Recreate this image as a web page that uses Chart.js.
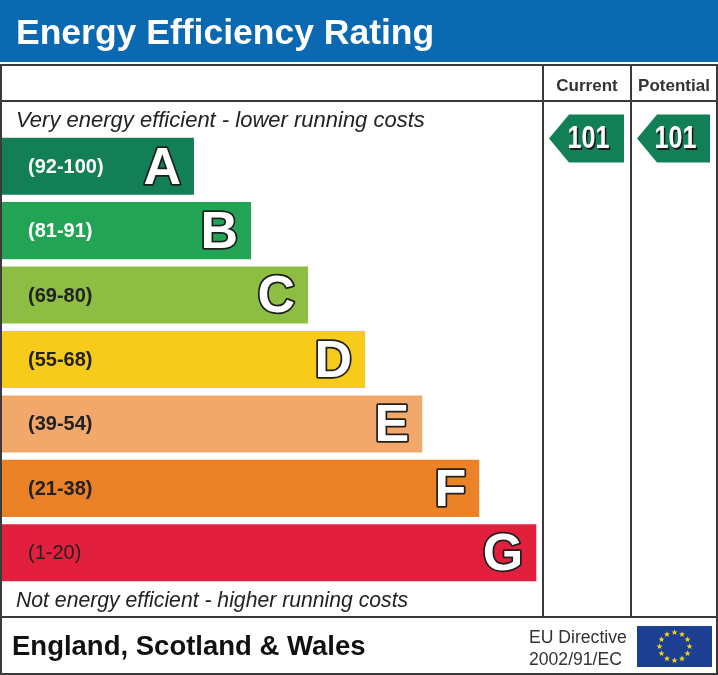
<!DOCTYPE html>
<html lang="en">
<head>
    <meta charset="UTF-8">
    <title>Energy Efficiency Rating</title>
    <script src="https://cdn.jsdelivr.net/npm/chart.js"></script>
    <style>
        html, body { margin: 0; padding: 0; background: #fff; overflow: hidden; }
        canvas { display: block; }
    </style>
</head>
<body>
    <canvas id="epcChart" width="718" height="675"></canvas>
    <script>
        // Bands of the rating scale, best first
        const bandLetters = ['A', 'B', 'C', 'D', 'E', 'F', 'G'];
        const bandRanges = ['(92-100)', '(81-91)', '(69-80)', '(55-68)', '(39-54)', '(21-38)', '(1-20)'];
        const bandLow = [92, 81, 69, 55, 39, 21, 1];
        const bandHigh = [100, 91, 80, 68, 54, 38, 20];
        // relative bar lengths (steps of the ladder)
        const bandLength = [3.4, 4.4, 5.4, 6.4, 7.4, 8.4, 9.4];
        const bandColors = ['#127f56', '#22a454', '#8dbd43', '#f6cb1a', '#f2a76b', '#ec8227', '#e21f3c'];
        const labelColors = ['#ffffff', '#ffffff', '#222222', '#222222', '#222222', '#222222', '#222222'];

        const currentRating = 101;
        const potentialRating = 101;

        const W = 718, H = 675;
        const colCurrent = [543, 631];
        const colPotential = [631, 717];
        const FONT = '"Liberation Sans", Arial, sans-serif';

        // which row of the category axis a rating sits on (fractional above A)
        function ratingRow(r) {
            if (r > bandHigh[0]) return -0.43;
            for (let i = 0; i < bandLow.length; i++) {
                if (r >= bandLow[i]) return i;
            }
            return bandLow.length - 1;
        }

        function ratingColor(r) {
            const row = Math.max(0, Math.round(ratingRow(r)));
            return bandColors[row];
        }

        // text squeezed horizontally (the original uses a narrow face)
        function narrowText(ctx, txt, x, y, sx) {
            ctx.save();
            ctx.translate(x, y);
            ctx.scale(sx, 1);
            ctx.fillText(txt, 0, 0);
            ctx.restore();
        }

        function drawStar(ctx, cx, cy, r) {
            ctx.beginPath();
            for (let k = 0; k < 10; k++) {
                const a = -Math.PI / 2 + k * Math.PI / 5;
                const rr = k % 2 === 0 ? r : r * 0.42;
                ctx.lineTo(cx + rr * Math.cos(a), cy + rr * Math.sin(a));
            }
            ctx.closePath();
            ctx.fill();
        }

        function drawArrow(ctx, col, y, rating) {
            const left = col[0] + 6, tip = 20, right = col[1] - 7;
            const h = 48;
            ctx.fillStyle = ratingColor(rating);
            ctx.beginPath();
            ctx.moveTo(left, y);
            ctx.lineTo(left + tip, y - h / 2);
            ctx.lineTo(right, y - h / 2);
            ctx.lineTo(right, y + h / 2);
            ctx.lineTo(left + tip, y + h / 2);
            ctx.closePath();
            ctx.fill();
            ctx.font = 'bold 31px ' + FONT;
            ctx.textAlign = 'center';
            ctx.textBaseline = 'middle';
            const tx = (left + right) / 2 + 2;
            ctx.fillStyle = '#1a1a1a';
            narrowText(ctx, String(rating), tx + 1.5, y + 2.5, 0.81);
            ctx.fillStyle = '#ffffff';
            narrowText(ctx, String(rating), tx, y + 1, 0.81);
        }

        const frame = {
            id: 'frame',
            beforeDraw(chart) {
                const ctx = chart.ctx;
                ctx.save();
                ctx.fillStyle = '#ffffff';
                ctx.fillRect(0, 0, W, H);
                // header band
                ctx.fillStyle = '#0b69b2';
                ctx.fillRect(0, 0, W, 62);
                ctx.fillStyle = '#ffffff';
                ctx.font = 'bold 35.5px ' + FONT;
                ctx.textAlign = 'left';
                ctx.textBaseline = 'alphabetic';
                ctx.fillText('Energy Efficiency Rating', 16, 44);
                ctx.restore();
            },
            afterDraw(chart) {
                const ctx = chart.ctx;
                const y = chart.scales.y;
                const meta = chart.getDatasetMeta(0);
                ctx.save();

                // grid lines of the table
                ctx.strokeStyle = '#3a3a3a';
                ctx.lineWidth = 2;
                ctx.strokeRect(1, 65, W - 2, H - 66);
                ctx.beginPath();
                ctx.moveTo(0, 101); ctx.lineTo(W, 101);
                ctx.moveTo(0, 617); ctx.lineTo(W, 617);
                ctx.moveTo(colCurrent[0], 65); ctx.lineTo(colCurrent[0], 617);
                ctx.moveTo(colPotential[0], 65); ctx.lineTo(colPotential[0], 617);
                ctx.stroke();

                // column heads
                ctx.fillStyle = '#333333';
                ctx.font = 'bold 17px ' + FONT;
                ctx.textAlign = 'center';
                ctx.textBaseline = 'alphabetic';
                ctx.fillText('Current', (colCurrent[0] + colCurrent[1]) / 2, 91);
                ctx.fillText('Potential', (colPotential[0] + colPotential[1]) / 2, 91);

                // top / bottom captions
                ctx.textAlign = 'left';
                ctx.fillStyle = '#222222';
                ctx.font = 'italic 22px ' + FONT;
                ctx.fillText('Very energy efficient - lower running costs', 16, 127);
                ctx.font = 'italic 21.2px ' + FONT;
                ctx.fillText('Not energy efficient - higher running costs', 16, 607);

                // band texts
                meta.data.forEach((bar, i) => {
                    const cy = bar.y;
                    ctx.textBaseline = 'middle';
                    ctx.textAlign = 'left';
                    ctx.fillStyle = labelColors[i];
                    ctx.font = (i === 6 ? '' : 'bold ') + '20px ' + FONT;
                    ctx.fillText(bandRanges[i], 28, cy + 1);
                    ctx.textAlign = 'right';
                    ctx.font = 'bold 52px ' + FONT;
                    ctx.lineJoin = 'round';
                    ctx.lineWidth = 3.5;
                    ctx.strokeStyle = '#1e1e1e';
                    ctx.strokeText(bandLetters[i], bar.x - 13, cy + 3);
                    ctx.fillStyle = '#ffffff';
                    ctx.fillText(bandLetters[i], bar.x - 13, cy + 3);
                });

                // rating arrows
                drawArrow(ctx, colCurrent, y.getPixelForValue(ratingRow(currentRating)), currentRating);
                drawArrow(ctx, colPotential, y.getPixelForValue(ratingRow(potentialRating)), potentialRating);

                // footer
                ctx.textBaseline = 'alphabetic';
                ctx.textAlign = 'left';
                ctx.fillStyle = '#111111';
                ctx.font = 'bold 27.5px ' + FONT;
                ctx.fillText('England, Scotland & Wales', 12, 655);
                ctx.fillStyle = '#333333';
                ctx.font = '17.6px ' + FONT;
                ctx.fillText('EU Directive', 529, 643);
                ctx.fillText('2002/91/EC', 529, 665);

                // EU flag
                ctx.fillStyle = '#1d3f91';
                ctx.fillRect(637, 626, 75, 41);
                ctx.fillStyle = '#f5d416';
                for (let k = 0; k < 12; k++) {
                    const a = k * Math.PI / 6;
                    drawStar(ctx, 674.5 + 15 * Math.cos(a), 646.5 + 14 * Math.sin(a), 3.2);
                }
                ctx.restore();
            }
        };

        const ctx = document.getElementById('epcChart').getContext('2d');
        const epcChart = new Chart(ctx, {
            type: 'bar',
            data: {
                labels: bandLetters,
                datasets: [{
                    data: bandLength,
                    backgroundColor: bandColors,
                    borderWidth: 0,
                    barPercentage: 0.886,
                    categoryPercentage: 1.0
                }]
            },
            options: {
                indexAxis: 'y',
                responsive: false,
                animation: false,
                devicePixelRatio: 1,
                layout: { padding: { left: 0, right: W - colCurrent[0] + 1, top: 134, bottom: 90 } },
                scales: {
                    x: { display: false, min: 0, max: 9.5 },
                    y: { display: false }
                },
                plugins: {
                    legend: { display: false },
                    tooltip: { enabled: false }
                }
            },
            plugins: [frame]
        });
    </script>
</body>
</html>
